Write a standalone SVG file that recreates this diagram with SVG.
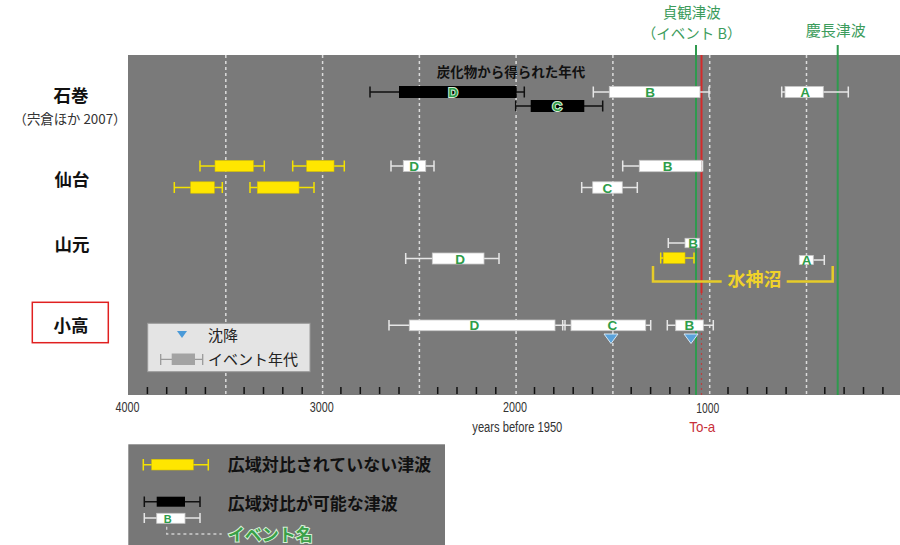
<svg xmlns="http://www.w3.org/2000/svg" width="900" height="545" viewBox="0 0 900 545">
<style>
.jp{font-family:"Noto Sans CJK JP","Liberation Sans",sans-serif}
.site{font-family:"Noto Sans CJK JP",sans-serif;font-size:17.5px;font-weight:bold;fill:#111;text-anchor:middle}
.grid{stroke:#dcdcdc;stroke-width:1.5;stroke-dasharray:3 3;fill:none}
.tick{stroke:#111;stroke-width:1.5;fill:none}
.ww{stroke:#e6e6e6;stroke-width:1.5;fill:none}
.wk{stroke:#111;stroke-width:1.5;fill:none}
.wy{stroke:#f4e200;stroke-width:1.5;fill:none}
.bw{fill:#fff;stroke:#c8c8c8;stroke-width:0.8}
.bk{fill:#000}
.by{fill:#ffe600;stroke:#d8c400;stroke-width:0.6}
.lbl{font-family:"Liberation Sans",sans-serif;font-size:13.5px;font-weight:bold;fill:#2e9d4a;text-anchor:middle}
.lblk{font-family:"Liberation Sans",sans-serif;font-size:13.5px;font-weight:bold;fill:#2e9d4a;stroke:#d8f0d8;stroke-width:2;paint-order:stroke;text-anchor:middle}
.num{font-family:"Liberation Sans",sans-serif;font-size:15px;fill:#333;text-anchor:middle}
.green{fill:#3c9c5c}
.tri{fill:#5aa2da;stroke:#d8e8f4;stroke-width:1}
.leg{font-family:"Noto Sans CJK JP",sans-serif;font-size:17px;font-weight:bold;fill:#111}
</style>

<rect x="0" y="0" width="900" height="545" fill="#fff"/>
<rect id="plot" x="128" y="55" width="772" height="340" fill="#7a7a7a"/>

<g id="grid">
<path class="grid" d="M225.8,55V395M322.6,55V395M419.4,55V395M516.1,55V395M612.9,55V395M709.7,55V395M806.5,55V395"/>
<path class="tick" d="M147.4,387V394M166.7,387V394M186.1,387V394M205.4,387V394M244.1,387V394M263.5,387V394M282.8,387V394M302.2,387V394M340.9,387V394M360.3,387V394M379.6,387V394M399,387V394M437.7,387V394M457,387V394M476.4,387V394M495.8,387V394M534.5,387V394M553.8,387V394M573.2,387V394M592.5,387V394M631.2,387V394M650.6,387V394M669.9,387V394M689.3,387V394M728,387V394M747.4,387V394M766.7,387V394M786.1,387V394M824.8,387V394M844.1,387V394M863.5,387V394M882.9,387V394"/>
</g>

<g id="axis">
<text class="num" x="127.5" y="412" textLength="24" lengthAdjust="spacingAndGlyphs">4000</text>
<text class="num" x="321.7" y="412" textLength="24" lengthAdjust="spacingAndGlyphs">3000</text>
<text class="num" x="515" y="412" textLength="24" lengthAdjust="spacingAndGlyphs">2000</text>
<text class="num" x="707.7" y="413" textLength="23" lengthAdjust="spacingAndGlyphs">1000</text>
<text class="num" x="517.3" y="432" style="font-size:14px" textLength="90" lengthAdjust="spacingAndGlyphs">years before 1950</text>
<text class="num" x="702.3" y="432" style="fill:#c8303a" textLength="26" lengthAdjust="spacingAndGlyphs">To-a</text>
</g>

<g id="site-labels">
<g id="ishinomaki"><text class="site" x="71" y="102.3">石巻</text>
<text class="jp" x="70" y="123.5" font-size="13.5" fill="#333" text-anchor="middle" textLength="113" lengthAdjust="spacingAndGlyphs">（宍倉ほか 2007）</text></g>
<g id="sendai"><text class="site" x="72" y="186">仙台</text></g>
<g id="yamamoto"><text class="site" x="72" y="251">山元</text></g>
<g id="odaka"><rect x="32.3" y="302.3" width="76" height="40.4" fill="#fff" stroke="#e02020" stroke-width="1.5"/>
<text class="site" x="71" y="332">小高</text></g>
</g>

<g id="connectors">
<path d="M696,45V395" stroke="#2f9a4e" stroke-width="2" fill="none"/>
<path d="M837.7,45V395" stroke="#2f9a4e" stroke-width="2" fill="none"/>
<path d="M701.5,55V293" stroke="#d42a2a" stroke-width="2" fill="none"/>
<path d="M701.5,293V395" stroke="#b84040" stroke-width="1.2" stroke-dasharray="2 3" fill="none"/>
</g>

<g id="event-labels">
<text class="jp green" x="691.7" y="18" font-size="14.5" text-anchor="middle">貞観津波</text>
<text class="jp green" x="691.7" y="39.3" font-size="14.5" text-anchor="middle">（イベント B）</text>
<text class="jp green" x="835.7" y="36" font-size="15" text-anchor="middle">慶長津波</text>
</g>

<g id="ishinomaki-bars">
<text class="jp" x="511" y="77" font-size="13.5" font-weight="bold" fill="#111" text-anchor="middle">炭化物から得られた年代</text>
<g id="ish-D"><path class="wk" d="M370,92H524.3M370,86.5V97.5M524.3,86.5V97.5"/><rect class="bk" x="399" y="86" width="117.7" height="12"/><text class="lblk" x="453" y="97">D</text></g>
<g id="ish-C"><path class="wk" d="M515.7,106H602.7M515.7,100.5V111.5M602.7,100.5V111.5"/><rect class="bk" x="530.7" y="100" width="53.6" height="12"/><text class="lblk" x="557" y="111">C</text></g>
<g id="ish-B"><path class="ww" d="M593.3,92H709M593.3,86.5V97.5M709,86.5V97.5"/><rect class="bw" x="609.3" y="86.5" width="90.7" height="11"/><text class="lbl" x="650" y="97">B</text></g>
<g id="ish-A"><path class="ww" d="M781.7,92H848.3M781.7,86.5V97.5M848.3,86.5V97.5"/><rect class="bw" x="785" y="86.5" width="38.3" height="11"/><text class="lbl" x="805" y="97">A</text></g>
</g>

<g id="sendai-bars">
<g id="sen-Y1"><path class="wy" d="M200,166H264.3M200,160.5V171.5M264.3,160.5V171.5"/><rect class="by" x="215" y="160.5" width="38.3" height="11"/></g>
<g id="sen-Y2"><path class="wy" d="M292.7,166H344.3M292.7,160.5V171.5M344.3,160.5V171.5"/><rect class="by" x="306.7" y="160.5" width="27.3" height="11"/></g>
<g id="sen-D"><path class="ww" d="M391,166H434M391,160.5V171.5M434,160.5V171.5"/><rect class="bw" x="403.3" y="160.5" width="22.4" height="11"/><text class="lbl" x="414" y="171">D</text></g>
<g id="sen-B"><path class="ww" d="M622.7,166H702.5M622.7,160.5V171.5M702.5,160.5V171.5"/><rect class="bw" x="639.3" y="160.3" width="62.4" height="11.4"/><text class="lbl" x="667.7" y="171">B</text></g>
<g id="sen-Y3"><path class="wy" d="M174.3,187.5H222.3M174.3,182V193M222.3,182V193"/><rect class="by" x="190.7" y="181.8" width="23.6" height="11.4"/></g>
<g id="sen-Y4"><path class="wy" d="M250,187.5H314M250,182V193M314,182V193"/><rect class="by" x="257.3" y="181.8" width="41.7" height="11.4"/></g>
<g id="sen-C"><path class="ww" d="M581.7,187.5H637.3M581.7,182V193M637.3,182V193"/><rect class="bw" x="592.7" y="181.8" width="29.6" height="11.4"/><text class="lbl" x="607.3" y="192.5">C</text></g>
</g>

<g id="yamamoto-bars">
<g id="yam-D"><path class="ww" d="M405.7,258.5H499M405.7,253V264M499,253V264"/><rect class="bw" x="432.3" y="253" width="51.7" height="11"/><text class="lbl" x="460" y="263.5">D</text></g>
<g id="yam-B"><path class="ww" d="M668.3,243H699.3M668.3,238V248"/><rect class="bw" x="685" y="238.3" width="14.3" height="9.4"/><text class="lbl" x="693" y="248">B</text></g>
<g id="yam-Y"><path class="wy" d="M660.7,258H694M660.7,252.5V263.5M694,252.5V263.5"/><rect class="by" x="663.3" y="252.7" width="21.7" height="10.6"/></g>
<g id="yam-A"><path class="ww" d="M799.3,260H824.3M824.3,255V265"/><rect class="bw" x="799.3" y="255.5" width="14" height="9"/><text class="lbl" x="806.5" y="265">A</text></g>
<g id="suijinnuma"><path d="M653,266V281.5H721.7M786.7,281.5H832.7V266" stroke="#e6cc2a" stroke-width="2.5" fill="none"/>
<text class="jp" x="754.5" y="286" font-size="18" font-weight="bold" fill="#f0d22a" text-anchor="middle">水神沼</text></g>
</g>

<g id="odaka-bars">
<g id="oda-D"><path class="ww" d="M389,325.3H565M389,320V330.6M565,320V330.6"/><rect class="bw" x="409.3" y="320" width="145.7" height="10.7"/><text class="lbl" x="474.3" y="330.3">D</text></g>
<g id="oda-C"><path class="ww" d="M562.7,325.3H650.7M562.7,320V330.6M650.7,320V330.6"/><rect class="bw" x="571" y="320" width="74.7" height="10.7"/><text class="lbl" x="612.3" y="330.3">C</text></g>
<g id="oda-B"><path class="ww" d="M667.3,325.3H713.3M667.3,320V330.6M713.3,320V330.6"/><rect class="bw" x="675.7" y="320" width="27.6" height="10.7"/><text class="lbl" x="689.3" y="330.3">B</text></g>
<polygon class="tri" points="604,334 618,334 611,343.5"/>
<polygon class="tri" points="684,334 698,334 691,343.5"/>
</g>

<g id="legend-inner">
<rect x="147.7" y="323.3" width="162.3" height="48.4" fill="#e4e4e4" stroke="#9a9a9a" stroke-width="1"/>
<polygon points="177,331 187,331 182,338" fill="#4a9ad8"/>
<text class="jp" x="208" y="341" font-size="15" fill="#222">沈降</text>
<path d="M160.7,359.3H202.7M160.7,354V365M202.7,354V365" stroke="#9a9a9a" stroke-width="1.3" fill="none"/>
<rect x="171.7" y="353.5" width="23.3" height="11.5" fill="#a3a3a3"/>
<text class="jp" x="208" y="365" font-size="15" fill="#222">イベント年代</text>
</g>

<g id="legend-bottom">
<rect x="128.3" y="444.3" width="316.7" height="101" fill="#777"/>
<g id="leg-yellow"><path class="wy" d="M143.3,464.7H208.3M143.3,459V470.4M208.3,459V470.4"/><rect class="by" x="151.7" y="459.3" width="41.6" height="10.7"/>
<text class="leg" x="227.7" y="470.5">広域対比されていない津波</text></g>
<g id="leg-black"><path class="wk" d="M144.3,501.7H200M144.3,496.5V507M200,496.5V507"/><rect class="bk" x="156.7" y="496.7" width="28.3" height="10"/>
<text class="leg" x="227.7" y="509.5">広域対比が可能な津波</text></g>
<g id="leg-white"><path class="ww" d="M144.3,518H200M144.3,513V523M200,513V523"/><rect class="bw" x="156.7" y="513.3" width="28.3" height="10"/><text class="lbl" x="167.7" y="522.5" style="font-size:11px">B</text></g>
<path d="M166.7,526.7V534H221.7" stroke="#d0d0d0" stroke-width="1.3" stroke-dasharray="3 3" fill="none"/>
<text class="leg" x="227.7" y="541" style="fill:#3aa048;stroke:#d8f0d8;stroke-width:2;paint-order:stroke">イベント名</text>
</g>
</svg>
